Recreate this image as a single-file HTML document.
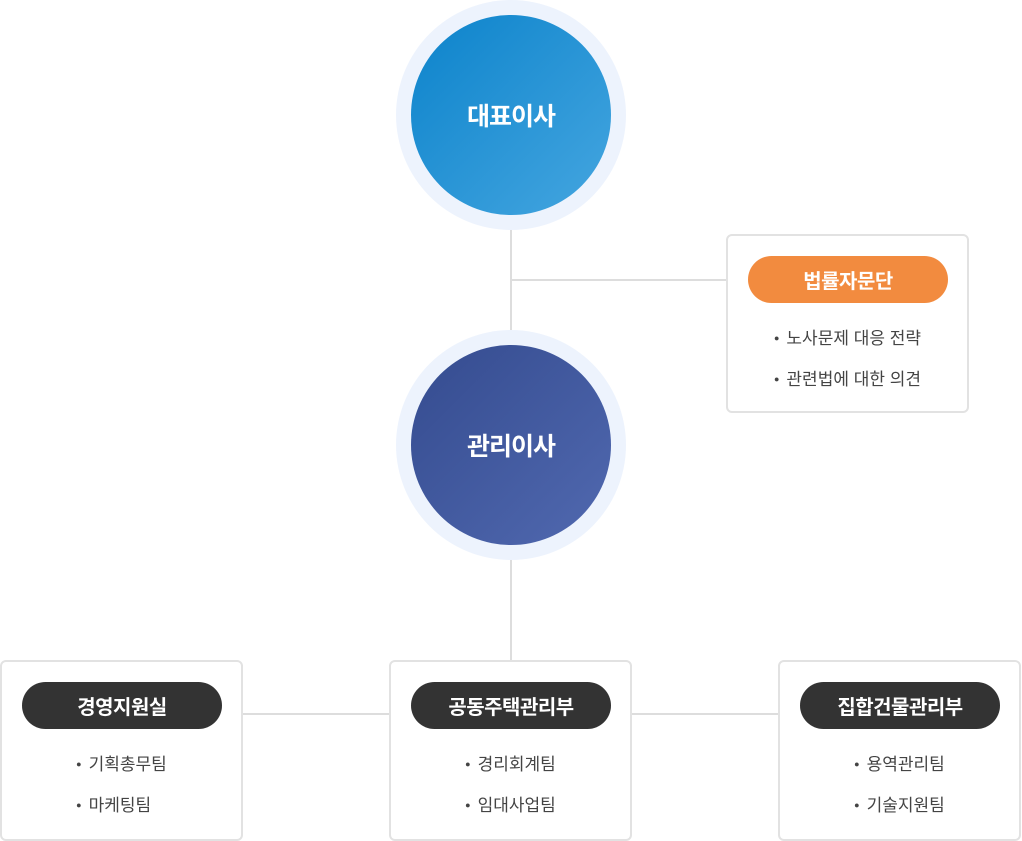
<!DOCTYPE html>
<html><head><meta charset="utf-8"><style>
*{margin:0;padding:0;box-sizing:border-box}
body{width:1022px;height:840px;background:#fff;position:relative;overflow:hidden;font-family:"Liberation Sans","Noto Sans CJK KR",sans-serif}
.ring{position:absolute;width:230px;height:230px;border-radius:50%;background:#edf3fd;left:396px}
.c{position:absolute;width:200px;height:200px;border-radius:50%;left:15px;top:15px;color:#fff;font-weight:bold;font-size:25px;display:flex;align-items:center;justify-content:center;letter-spacing:-1px}
.ln{position:absolute;background:#ddd}
.box{position:absolute;width:243px;height:179px;border:2px solid #e2e2e2;border-radius:6px;background:#fff}
.pill{position:absolute;left:20px;top:20px;width:200px;height:47px;border-radius:24px;color:#fff;font-weight:bold;font-size:20px;display:flex;align-items:center;justify-content:center;letter-spacing:-0.5px}
.ul{position:absolute;left:0;top:82px;width:100%;text-align:center}
.ul div{display:inline-block;text-align:left;font-size:17px;color:#444;line-height:40px}
.ul span{font-size:9px;vertical-align:3px;margin-right:7px}
</style></head><body>
<div class="ln" style="left:510px;top:228px;width:2px;height:104px"></div>
<div class="ln" style="left:511px;top:279px;width:217px;height:2px"></div>
<div class="ln" style="left:510px;top:558px;width:2px;height:104px"></div>
<div class="ln" style="left:243px;top:713px;width:148px;height:2px"></div>
<div class="ln" style="left:632px;top:713px;width:148px;height:2px"></div>
<div class="ring" style="top:0"><div class="c" style="background:linear-gradient(135deg,#0c83cb,#45a6e0)">대표이사</div></div>
<div class="ring" style="top:330px"><div class="c" style="background:linear-gradient(135deg,#344b8f,#5169b0)">관리이사</div></div>
<div class="box" style="left:726px;top:234px;height:179px">
<div class="pill" style="background:#f28b3f">법률자문단</div>
<div class="ul"><div><span>●</span>노사문제 대응 전략<br><span>●</span>관련법에 대한 의견</div></div></div>
<div class="box" style="left:0;top:660px;height:181px">
<div class="pill" style="background:#333">경영지원실</div>
<div class="ul"><div><span>●</span>기획총무팀<br><span>●</span>마케팅팀</div></div></div>
<div class="box" style="left:389px;top:660px;height:181px">
<div class="pill" style="background:#333">공동주택관리부</div>
<div class="ul"><div><span>●</span>경리회계팀<br><span>●</span>임대사업팀</div></div></div>
<div class="box" style="left:778px;top:660px;height:181px">
<div class="pill" style="background:#333">집합건물관리부</div>
<div class="ul"><div><span>●</span>용역관리팀<br><span>●</span>기술지원팀</div></div></div>
</body></html>
